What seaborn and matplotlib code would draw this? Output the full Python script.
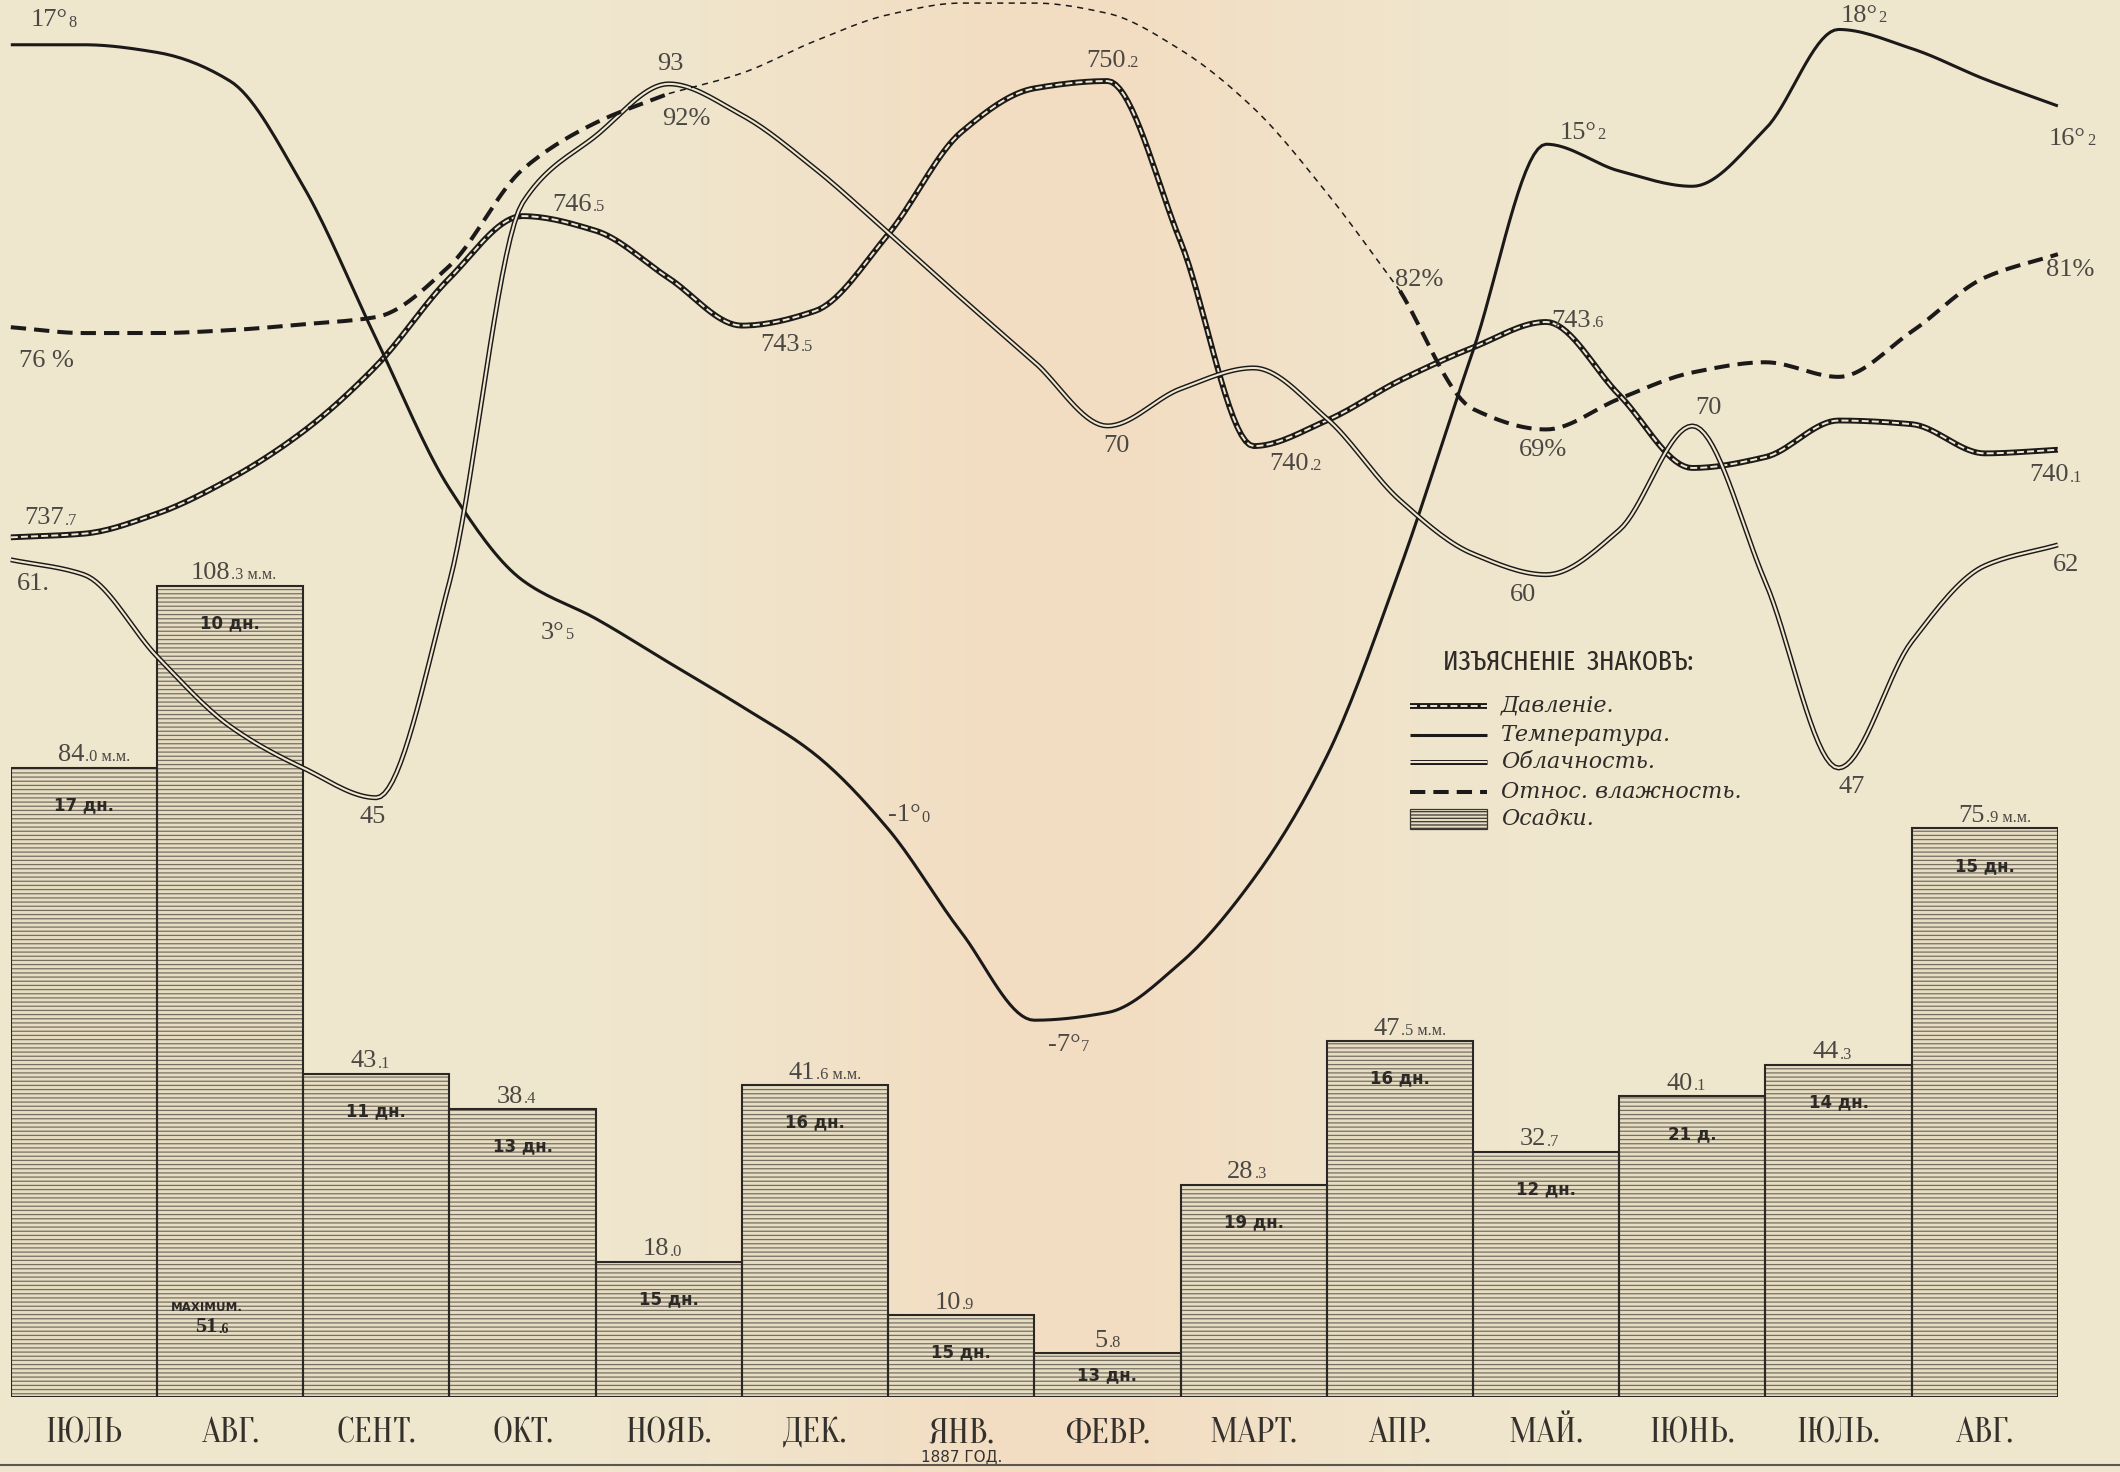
import numpy as np
import matplotlib
matplotlib.use('Agg')
import matplotlib.pyplot as plt
import matplotlib.transforms as mtransforms
import seaborn as sns
from matplotlib.lines import Line2D
from matplotlib.patches import Rectangle

### Data
months = ['ІЮЛЬ', 'АВГ.', 'СЕНТ.', 'ОКТ.', 'НОЯБ.', 'ДЕК.', 'ЯНВ.',
          'ФЕВР.', 'МАРТ.', 'АПР.', 'МАЙ.', 'ІЮНЬ.', 'ІЮЛЬ.', 'АВГ.']
precip_mm = [84.0, 108.3, 43.1, 38.4, 18.0, 41.6, 10.9, 5.8, 28.3, 47.5, 32.7, 40.1, 44.3, 75.9]
rain_days = [17, 10, 11, 13, 15, 16, 15, 13, 19, 16, 12, 21, 14, 15]
days_unit = ['дн.', 'дн.', 'дн.', 'дн.', 'дн.', 'дн.', 'дн.', 'дн.', 'дн.', 'дн.', 'дн.', 'д.', 'дн.', 'дн.']
mm_shown = [True, True, False, False, False, True, False, False, False, True, False, False, False, True]
max_daily_mm = 51.6
max_month = 1

# curves read every half month, from the start of July to the end of August
t_read = np.arange(-0.5, 13.51, 0.5)
temperature = [17.8, 17.8, 17.6, 16.85, 14.1, 10.1, 6.2, 3.8, 2.8, 1.65, 0.5, -0.75, -2.7, -5.4,
               -7.7, -7.5, -6.2, -4.0, -0.8, 4.1, 9.8, 15.2, 14.5, 14.1, 15.6, 18.2, 17.7, 16.9, 16.2]
pressure = [737.7, 737.8, 738.35, 739.3, 740.6, 742.4, 744.8, 746.5, 746.1, 744.8, 743.5, 743.9,
            746.0, 748.8, 750.0, 750.2, 745.8, 740.2, 740.9, 742.0, 742.9, 743.6, 741.6, 739.6,
            739.9, 740.9, 740.8, 740.0, 740.1]
cloudiness = [61, 60.0, 54.5, 49.8, 47.0, 45, 59.5, 85.0, 89.5, 93, 90.9, 87.3, 83.0, 78.6, 74.3,
              70, 72.5, 73.9, 70.5, 65.0, 61.4, 60, 63.0, 70, 59.5, 47, 55.5, 60.6, 62]
nan = np.nan
humidity = [76, 75.6, 75.6, 75.8, 76.2, 76.7, 80.2, 86.8, 90.0, 92,
            nan, nan, nan, nan, nan, nan, nan, nan, nan,
            78.5, 70.4, 69, 71.1, 72.9, 73.6, 72.6, 75.7, 79.4, 81]
humidity_est = [nan, nan, nan, nan, nan, nan, nan, nan, nan,
                92, 93.4, 95.6, 97.4, 98.2, 98.2, 97.5, 95.0, 91.0, 85.2, 78.5,
                nan, nan, nan, nan, nan, nan, nan, nan, nan]

# labels written on the curves: (index in t_read, text)
temp_labels = [(0, '17°', '8'), (7, '3°', '5'), (11, '-1°', '0'), (14, '-7°', '7'),
               (21, '15°', '2'), (25, '18°', '2'), (28, '16°', '2')]
pres_labels = [(0, '737', '.7'), (7, '746', '.5'), (10, '743', '.5'), (15, '750', '.2'),
               (17, '740', '.2'), (21, '743', '.6'), (28, '740', '.1')]
cloud_labels = [(0, '61.'), (5, '45'), (9, '93'), (15, '70'), (21, '60'), (23, '70'), (25, '47'), (28, '62')]
hum_labels = [(0, '76 %'), (9, '92%'), (19, '82%'), (21, '69%'), (28, '81%')]

# offsets of those labels, points
temp_off = [(41, 17.5), (30, -38), (76, -44), (33, -17.5), (36, 8), (28, 10), (20, -24)]
pres_off = [(38, 13.6), (50, 7.8), (42, -14), (13, 14.6), (40, -13), (32, 1), (8, -18.5)]
cloud_off = [(16.5, -17.5), (-3, -13.6), (1, 14.6), (6.8, -14.6), (-16.5, -14.6), (11.7, 12.6), (9.7, -13.6), (5.8, -14.6)]
hum_off = [(26, -24.3), (12.6, -18.5), (14, 8), (-2, -14.6), (8.8, -11.7)]

### Style
paper = '#efe7cf'
fold = '#f3ddc2'
ink = '#1c1a18'
num_ink = '#4b4843'
bar_fill = '#e6ddc3'
hatch_ink = '#777062'
serif = ['Liberation Serif', 'DejaVu Serif']
month_font = dict(family=['Oranienbaum', 'DejaVu Serif'], stretch='condensed')
title_font = ['Fira Sans Extra Condensed', 'IBM Plex Sans Condensed', 'DejaVu Sans']

sns.set_style('white')
plt.rcParams['font.family'] = ['DejaVu Sans']
plt.rcParams['hatch.linewidth'] = 0.9


def pchip(xs, ys, n=18):
    xs = np.asarray(xs, float)
    ys = np.asarray(ys, float)
    if len(xs) < 2:
        return xs, ys
    h = np.diff(xs)
    d = np.diff(ys) / h
    m = np.zeros(len(xs))
    m[0], m[-1] = d[0], d[-1]
    for k in range(1, len(xs) - 1):
        if d[k - 1] * d[k] > 0:
            w1 = 2 * h[k] + h[k - 1]
            w2 = h[k] + 2 * h[k - 1]
            m[k] = (w1 + w2) / (w1 / d[k - 1] + w2 / d[k])
    u = np.linspace(0, 1, n, endpoint=False)
    ox, oy = [], []
    for k in range(len(xs) - 1):
        h00 = 2 * u ** 3 - 3 * u ** 2 + 1
        h10 = u ** 3 - 2 * u ** 2 + u
        h01 = -2 * u ** 3 + 3 * u ** 2
        h11 = u ** 3 - u ** 2
        ox.append(xs[k] + u * h[k])
        oy.append(h00 * ys[k] + h10 * h[k] * m[k] + h01 * ys[k + 1] + h11 * h[k] * m[k + 1])
    return np.concatenate(ox + [[xs[-1]]]), np.concatenate(oy + [[ys[-1]]])


def runs(t, v):
    v = np.asarray(v, float)
    out, cur = [], []
    for i in range(len(v)):
        if not np.isnan(v[i]):
            cur.append(i)
        elif cur:
            out.append(cur)
            cur = []
    if cur:
        out.append(cur)
    return [(t[idx], v[idx]) for idx in out]


def draw_curve(ax, vals, layers):
    for tt, vv in runs(t_read, vals):
        sx, sy = pchip(tt, vv)
        for kw in layers:
            ax.plot(sx, sy, clip_on=False, solid_capstyle='butt', dash_capstyle='butt', **kw)


def two_part(ax, x, y, big, small, off, size=19, va='center', color=num_ink, weight='normal'):
    a = ax.annotate(big, (x, y), xytext=off, textcoords='offset points', ha='right', va=va,
                    fontsize=size, family=serif, color=color, weight=weight, annotation_clip=False)
    ax.annotate(small, xy=(1, 0.22), xycoords=a, xytext=(0.8, 0), textcoords='offset points',
                ha='left', va='baseline', fontsize=size * 0.62, family=serif, color=color,
                weight=weight, annotation_clip=False)


### Figure
fig = plt.figure(figsize=(21.2, 14.72), dpi=100, facecolor=paper)

# paper with the warmer fold in the middle
bg = fig.add_axes([0, 0, 1, 1], zorder=-10)
gx = np.linspace(0, 1, 600)
w = np.exp(-((gx - 0.5) / 0.14) ** 2)
c0 = np.array(matplotlib.colors.to_rgb(paper))
c1 = np.array(matplotlib.colors.to_rgb(fold))
bg.imshow((c0[None, :] * (1 - w[:, None]) + c1[None, :] * w[:, None])[None, :, :],
          aspect='auto', extent=[0, 1, 0, 1])
bg.set_axis_off()

ax = fig.add_axes([0.0051, 0.0512, 0.9656, 0.9488])
ax.set_facecolor('none')

# precipitation bars
x_m = np.arange(len(months))
sns.barplot(x=x_m, y=precip_mm, ax=ax, color=bar_fill, saturation=1, width=1.0,
            edgecolor=hatch_ink, linewidth=0, errorbar=None)
for p in ax.patches:
    p.set_hatch('----')
ax.bar(x_m, precip_mm, width=1.0, fill=False, edgecolor='#2a2724', linewidth=1.5)
ax.set_xlim(-0.5, 13.5)
ax.set_ylim(0, 186.5)
ax.set_xlabel('')
ax.set_ylabel('')
ax.set_yticks([])
for s in ax.spines.values():
    s.set_visible(False)
ax.set_xticks(x_m, months, fontsize=26, color='#34312d', **month_font)
ax.tick_params(axis='x', length=0, pad=15)

for i, v in enumerate(precip_mm):
    whole, frac = f'{v:.1f}'.split('.')
    small = '.' + frac + (' м.м.' if mm_shown[i] else '')
    two_part(ax, i, v, whole, small, (0, 1), va='bottom')
    down = min(27, 0.5 * v * 5.39)
    ax.annotate(f'{rain_days[i]} {days_unit[i]}', (i, v), xytext=(0, -down), textcoords='offset points',
                ha='center', va='center', fontsize=12, weight='bold', color='#2b2825')

ax.annotate('MAXIMUM.', (max_month, 0), xytext=(-17, 64), textcoords='offset points',
            ha='center', va='center', fontsize=8.5, weight='bold', color='#2b2825')
mw, mf = f'{max_daily_mm:.1f}'.split('.')
two_part(ax, max_month, 0, mw, '.' + mf, (-9, 50), size=16, weight='bold', color='#2b2825')

ax.text(6, -0.043, '1887 ГОД.', transform=mtransforms.blended_transform_factory(ax.transData, ax.transAxes),
        ha='center', va='center', fontsize=11, color='#34312d')

# curves, each on its own scale
ax_p = ax.twinx()
ax_t = ax.twinx()
ax_c = ax.twinx()
ax_h = ax.twinx()
ax_p.set_ylim(714.16, 752.42)
ax_t.set_ylim(-17.54, 18.97)
ax_c.set_ylim(4.73, 98.64)
ax_h.set_ylim(2.76, 98.41)
for a in (ax_p, ax_t, ax_c, ax_h):
    a.set_xlim(-0.5, 13.5)
    a.set_axis_off()

press_style = [dict(color=ink, lw=4.2), dict(color=paper, lw=1.4, ls=(0, (3.6, 1.6)))]
temp_style = [dict(color=ink, lw=2.2)]
cloud_style = [dict(color=ink, lw=3.6), dict(color=paper, lw=1.5)]
hum_style = [dict(color=ink, lw=2.9, ls=(0, (3.8, 2.0)))]

draw_curve(ax_h, humidity_est, [dict(color=ink, lw=1.1, ls=(0, (4, 3.5)))])
draw_curve(ax_h, humidity, hum_style)
draw_curve(ax_c, cloudiness, cloud_style)
draw_curve(ax_t, temperature, temp_style)
draw_curve(ax_p, pressure, press_style)

for (i, big, small), off in zip(temp_labels, temp_off):
    two_part(ax_t, t_read[i], temperature[i], big, small, off)
for (i, big, small), off in zip(pres_labels, pres_off):
    two_part(ax_p, t_read[i], pressure[i], big, small, off)
for (i, txt), off in zip(cloud_labels, cloud_off):
    ax_c.annotate(txt, (t_read[i], cloudiness[i]), xytext=off, textcoords='offset points', ha='center',
                  va='center', fontsize=19, family=serif, color=num_ink, annotation_clip=False)
for (i, txt), off in zip(hum_labels, hum_off):
    yv = humidity[i] if not np.isnan(humidity[i]) else humidity_est[i]
    ax_h.annotate(txt, (t_read[i], yv), xytext=off, textcoords='offset points', ha='center',
                  va='center', fontsize=19, family=serif, color=num_ink, annotation_clip=False)

# key (drawn by hand, like the sheet)
fig.text(0.7398, 1 - 490 / 1089, 'ИЗЪЯСНЕНІЕ  ЗНАКОВЪ:', ha='center', va='center',
         fontsize=20, color='#2e2b28', family=title_font)
key_labels = ['Давленіе.', 'Температура.', 'Облачность.', 'Относ. влажность.', 'Осадки.']
key_styles = [press_style, temp_style, cloud_style, hum_style, None]
key_rows = [522, 544, 564, 586, 606]
for lab, sty, yr in zip(key_labels, key_styles, key_rows):
    yf = 1 - yr / 1089
    if sty is None:
        fig.add_artist(Rectangle((0.6652, yf - 0.007), 0.0363, 0.014, transform=fig.transFigure,
                                 facecolor=bar_fill, edgecolor='#3a3632', hatch='-----', lw=0.9))
    else:
        for kw in sty:
            fig.add_artist(Line2D([0.6652, 0.7015], [yf, yf], transform=fig.transFigure,
                                  solid_capstyle='butt', dash_capstyle='butt', **kw))
    fig.text(0.7079, yf, lab, ha='left', va='center', fontsize=16, family='DejaVu Serif',
             style='italic', color='#2e2b28')

fig.add_artist(Line2D([0, 1], [0.0045, 0.0045], transform=fig.transFigure, color='#5a5650', lw=1.5))

fig.savefig('out.png', dpi=100, facecolor=fig.get_facecolor())
